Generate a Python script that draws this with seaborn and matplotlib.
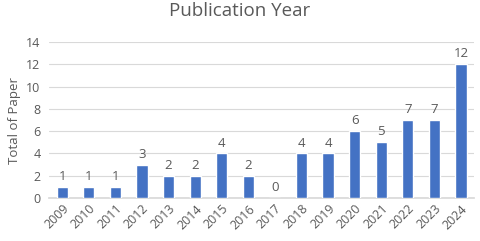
import pandas as pd
import matplotlib
matplotlib.use("Agg")
import matplotlib.pyplot as plt
import seaborn as sns

# datos
anios = ["2009", "2010", "2011", "2012", "2013", "2014", "2015", "2016",
         "2017", "2018", "2019", "2020", "2021", "2022", "2023", "2024"]
total_papers = [1, 1, 1, 3, 2, 2, 4, 2, 0, 4, 4, 6, 5, 7, 7, 12]
y_ticks = [0, 2, 4, 6, 8, 10, 12, 14]

GRIS = "#595959"
AZUL = "#4472C4"

sns.set_theme(style="white")
plt.rcParams['font.family'] = ['Open Sans', 'DejaVu Sans']

df = pd.DataFrame({"anio": anios, "total": total_papers})

fig = plt.figure(figsize=(4.8, 2.41), dpi=100)
ax = fig.add_axes([0.102, 0.178, 0.886, 0.648])

sns.barplot(data=df, x="anio", y="total", color=AZUL, width=0.42,
            saturation=1, ax=ax, zorder=3)

for i, v in enumerate(total_papers):
    ax.text(i, v + 0.35, str(v), ha="center", va="bottom", fontsize=9.5, color=GRIS)

ax.set_ylim(0, 14)
ax.set_yticks(y_ticks)
ax.set_xlim(-0.5, len(anios) - 0.5)
ax.yaxis.grid(True, color="#D9D9D9", linewidth=0.8, zorder=0)
ax.tick_params(axis="y", labelsize=9, colors=GRIS, length=0, pad=6)
ax.tick_params(axis="x", labelsize=9, colors=GRIS, length=0, pad=3)
plt.setp(ax.get_xticklabels(), rotation=45, ha="right", rotation_mode="anchor")
for s in ["top", "right", "left"]:
    ax.spines[s].set_visible(False)
ax.spines["bottom"].set_color("#D9D9D9")
ax.set_xlabel("")
ax.set_ylabel("Total of Paper", fontsize=9.5, color=GRIS, labelpad=4)
fig.suptitle("Publication Year", fontsize=13.5, color=GRIS, y=0.99)

fig.savefig("out.png", dpi=100)
plt.close(fig)
